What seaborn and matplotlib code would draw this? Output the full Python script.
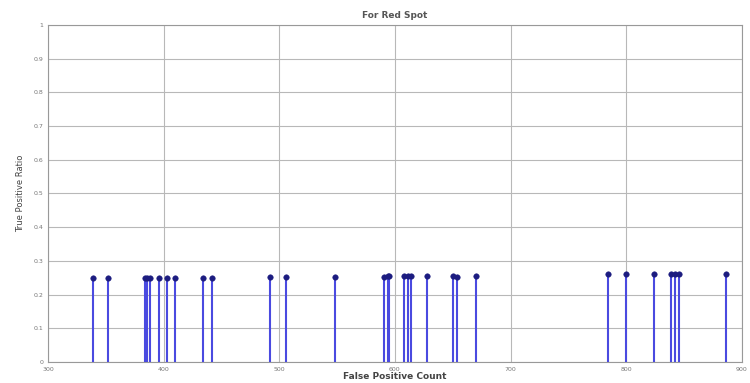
import numpy as np
import pandas as pd
import matplotlib
matplotlib.use("Agg")
import matplotlib.pyplot as plt
import seaborn as sns

# values
false_pos = [339, 352, 384, 386, 388, 396, 403, 410, 434, 442,
             492, 506, 548, 591, 594, 595, 608, 611, 614, 628,
             650, 654, 670, 784, 800, 824, 839, 842, 846, 886]
true_pos_ratio = [0.250, 0.250, 0.250, 0.250, 0.250, 0.250, 0.250, 0.250, 0.250, 0.250,
                  0.252, 0.252, 0.252, 0.253, 0.254, 0.255, 0.255, 0.255, 0.255, 0.256,
                  0.255, 0.253, 0.256, 0.260, 0.260, 0.260, 0.260, 0.260, 0.260, 0.260]
x_ticks = [300, 400, 500, 600, 700, 800, 900]
y_ticks = [0, 0.1, 0.2, 0.3, 0.4, 0.5, 0.6, 0.7, 0.8, 0.9, 1]

df = pd.DataFrame({"fp": false_pos, "tpr": true_pos_ratio})

sns.set_style("white")
fig = plt.figure(figsize=(7.5, 3.83), dpi=100)
ax = fig.add_axes([0.064, 0.055, 0.925, 0.88])

# stems + heads
ax.vlines(df["fp"], 0, df["tpr"], color="#4a4ae0", lw=1.5, zorder=3)
sns.scatterplot(data=df, x="fp", y="tpr", ax=ax, color="#1c1c80",
                s=16, edgecolor="#1c1c80", zorder=4, legend=False)

ax.set_xlim(300, 900)
ax.set_ylim(0, 1)
ax.set_xticks(x_ticks)
ax.set_yticks(y_ticks)
ax.set_xticklabels([str(t) for t in x_ticks])
ax.set_yticklabels(["0", "0.1", "0.2", "0.3", "0.4", "0.5", "0.6", "0.7", "0.8", "0.9", "1"])
ax.grid(True, color="#b8b8b8", lw=0.8, ls="-")
ax.set_axisbelow(True)
for s in ax.spines.values():
    s.set_color("#999999")
    s.set_linewidth(0.8)
ax.tick_params(axis="both", labelsize=4.5, colors="#777777", length=2, pad=1.5)

ax.set_title("For Red Spot", fontsize=6.5, color="#555555", fontweight="bold", pad=5)
ax.set_xlabel("False Positive Count", fontsize=6.5, color="#444444", fontweight="bold", labelpad=0)
ax.set_ylabel("True Positive Ratio", fontsize=6, color="#444444", labelpad=6)

fig.savefig("out.png", dpi=100)
